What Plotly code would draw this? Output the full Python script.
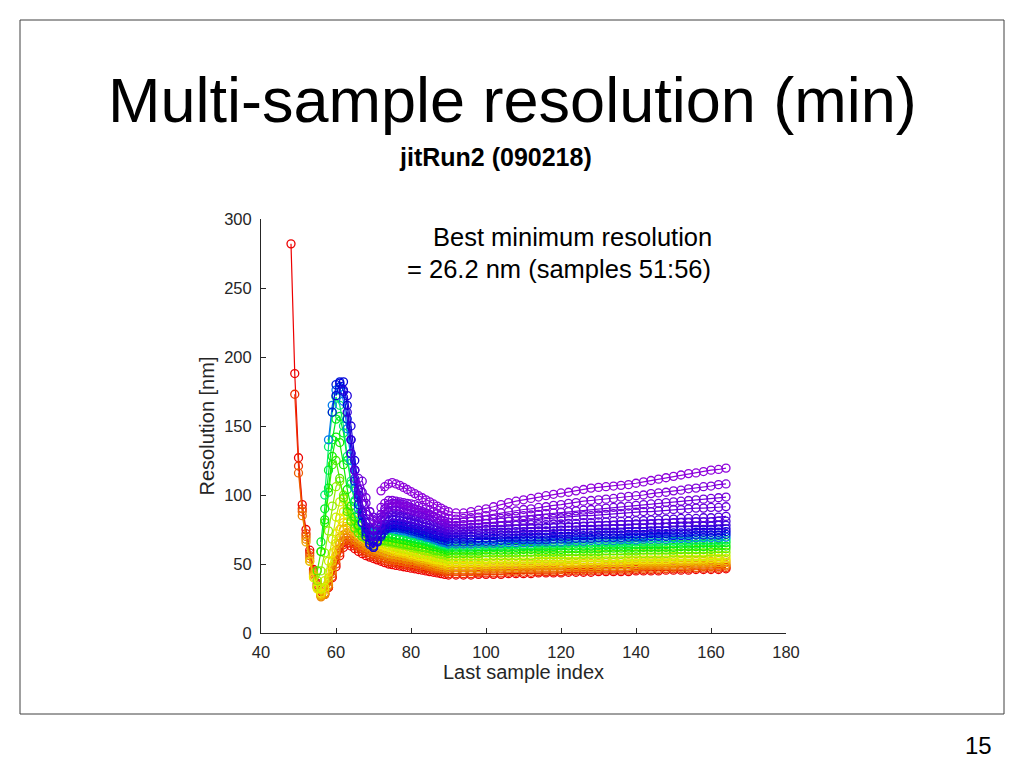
import colorsys
import plotly.graph_objects as go

# ---------------- data ----------------
# first "last sample index" of every curve (one curve per colour, red -> violet)
START = [48, 49, 50, 51, 52, 53, 54, 55, 55, 55, 56, 56, 57, 58, 59, 60, 62, 63, 64, 65, 66, 67, 72, 72]
HUES = [0.00, 0.035, 0.065, 0.09, 0.115, 0.14, 0.165, 0.19, 0.23, 0.28, 0.32, 0.36,
        0.41, 0.58, 0.645, 0.665, 0.69, 0.705, 0.72, 0.73, 0.745, 0.755, 0.765, 0.775]

# values at every sample from START up to 89
H01 = [282, 188, 127, 93, 75, 60, 46, 36, 30, 29, 33, 40, 48, 56, 62, 65, 63, 61, 59, 57.5, 56, 55, 54, 53, 52,
       51, 50, 49.5, 49, 48.5, 48, 47.5, 47, 46.5, 46, 45.5, 45, 44.5, 44, 43.5, 43, 42.5]
H02 = [173, 121, 90, 72, 58, 45, 35, 28, 28, 33, 41, 50, 58, 64, 67, 65, 63, 61, 59.5, 58, 56.5, 55.5, 54.5, 53.5,
       52.5, 51.5, 51, 50.5, 50, 49.5, 49, 48.5, 48, 47.5, 47, 46.5, 46, 45.5, 45, 44.5, 44]
H03 = [116, 88, 70, 56, 44, 34, 27, 28, 34, 43, 53, 61, 67, 69, 67, 65, 63, 61.5, 60, 58.5, 57.5, 56.5, 55.5,
       54.5, 53.5, 53, 52.5, 52, 51.5, 51, 50.5, 50, 49.5, 49, 48.5, 48, 47, 46.5, 46, 45.5]
H04 = [85, 68, 54, 43, 33, 26.2, 28, 35, 45, 56, 65, 71, 72, 70, 67.5, 65.5, 63.5, 62, 60.5, 59.5, 58.5, 57.5,
       56.5, 55.5, 55, 54.5, 54, 53.5, 53, 52.5, 52, 51.5, 51, 50, 49.5, 48.5, 48, 47.5, 47]
H05 = [66, 52, 42, 33, 27, 29, 37, 48, 60, 69, 75, 76, 73.5, 71, 68.5, 66.5, 64.5, 63, 61.5, 60.5, 59.5,
       58.5, 57.5, 57, 56.5, 56, 55.5, 55, 54.5, 54, 53, 52.5, 52, 51, 50.5, 49.5, 49, 48.5]
H06 = [52, 41, 33, 28, 31, 40, 52, 65, 75, 80, 80, 77, 74, 71, 69, 67, 65.5, 64, 63, 62,
       61, 60, 59, 58.5, 58, 57.5, 57, 56, 55.5, 55, 54, 53.5, 53, 52, 51.5, 50.5, 50]
H07 = [40, 32, 29, 33, 44, 58, 72, 83, 88, 86, 82, 78, 75, 72, 70, 68, 66.5, 65, 64,
       63, 62, 61, 60, 59.5, 59, 58.5, 57.5, 57, 56, 55.5, 55, 54.5, 53.5, 53, 52.5, 52]
H08 = [34, 32, 38, 52, 68, 84, 95, 97, 92, 87, 82, 78, 75, 72.5, 70.5, 68.5, 67, 66,
       65, 64, 63, 62.5, 61.5, 61, 60.5, 59.5, 59, 58, 57.5, 57, 56.5, 55.5, 55, 54.5, 54]
H09 = [38, 45, 58, 74, 92, 106, 110, 100, 90, 84, 79, 75, 72, 70, 68.5, 67.5, 67, 66.5,
       66, 65.5, 65, 64.5, 64, 63.5, 63, 62, 61.5, 61, 60, 59.5, 59, 58.5, 57.5, 57, 56.5]
H10 = [45, 59, 80, 102, 122, 125, 112, 98, 88, 81, 76, 72.5, 70, 68.5, 67.5, 67, 67, 67,
       67, 66.5, 66, 65.5, 65, 64.5, 64, 63.5, 63, 62.5, 62, 61.5, 61, 60, 59.5, 59, 58.5]
H11 = [59, 82, 105, 128, 142, 138, 122, 104, 92, 84, 78, 74, 72, 70.5, 70, 70, 70,
       70, 69.5, 69, 68.5, 68, 67.5, 67, 66.5, 65.5, 65, 64.5, 64, 63, 62.5, 62, 61, 60.5]
H12 = [66, 90, 118, 140, 155, 157, 145, 125, 108, 95, 86, 79, 75, 73, 72, 72, 72.5,
       72.5, 72, 71.5, 71, 70.5, 70, 69.5, 68.5, 68, 67.5, 67, 66, 65.5, 64.5, 64, 63, 62.5]
H13 = [100, 135, 160, 171, 165, 150, 128, 110, 96, 86, 79, 75.5, 74, 74, 74.5, 75,
       75, 74.5, 74, 73.5, 73, 72.5, 71.5, 71, 70, 69.5, 68.5, 68, 67, 66.5, 65.5, 64.5, 64]
H14 = [140, 165, 176, 178, 168, 148, 125, 105, 90, 80, 75, 73, 73, 74, 75.5,
       76, 76, 75.5, 75, 74.5, 74, 73.5, 72.5, 72, 71, 70.5, 69.5, 69, 68, 67, 66, 65.5]
H15 = [160, 180, 182, 175, 155, 130, 110, 93, 80, 70, 64, 63, 66, 70,
       74, 76, 76.5, 76.5, 76, 75.5, 75, 74, 73.5, 72.5, 72, 71, 70.5, 69.5, 68.5, 67.5, 67]
H16 = [172, 181, 182, 165, 140, 118, 100, 85, 73, 65, 62, 66, 71,
       75, 77, 78, 78, 77.5, 77, 76.5, 75.5, 75, 74, 73.5, 72.5, 72, 71, 70.5, 69.5, 69]
H17 = [176, 172, 150, 125, 104, 88, 76, 67, 62, 67, 72,
       76, 78.5, 79.5, 79.5, 79, 78.5, 78, 77.5, 76.5, 76, 75, 74.5, 73.5, 72.5, 72, 71, 70.5]
H18 = [160, 140, 118, 100, 87, 77, 70, 66, 70, 75,
       79, 81, 82, 82, 81.5, 81, 80.5, 80, 79, 78.5, 77.5, 77, 76, 75, 74.5, 73.5, 72.5]
H19 = [130, 112, 98, 88, 80, 74, 70, 74, 78,
       82, 84, 85, 85, 84.5, 84, 83.5, 82.5, 82, 81, 80.5, 79.5, 78.5, 78, 77, 76, 75]
H20 = [118, 104, 94, 86, 80, 76, 78, 82,
       86, 88, 89, 89, 88.5, 88, 87, 86.5, 85.5, 85, 84, 83, 82, 81, 80, 78.5, 77]
H21 = [112, 102, 94, 88, 84, 83, 86,
       90, 93, 94, 94, 93.5, 93, 92, 91, 90, 89, 88, 87, 86, 84.5, 83, 81.5, 79.5]
H22 = [110, 98, 88, 82, 80, 84,
       88, 91, 92, 92, 91.5, 91, 90, 89, 88, 87.5, 86.5, 85.5, 85, 84, 83, 82, 81]
H23 = [91,
       94, 96, 96, 95.5, 95, 94.5, 94, 93.5, 93, 92, 91, 90, 89, 88, 86.5, 85, 84]
H24 = [103,
       106, 108, 109, 108, 107, 105.5, 104, 102.5, 101, 99.5, 98, 96.5, 95, 93.5, 92, 90.5, 89]

# values at every second sample from 90 to 164
T01 = [42, 42, 42, 42, 42.5, 42.5, 42.5, 42.5, 43, 43, 43, 43, 43.5, 43.5, 43.5, 43.5, 44, 44, 44, 44,
       44.5, 44.5, 44.5, 44.5, 44.5, 45, 45, 45, 45, 45.5, 45.5, 45.5, 45.5, 46, 46, 46, 46, 46.5]
T02 = [43, 43, 43, 43, 43.5, 43.5, 43.5, 43.5, 44, 44, 44, 44, 44.5, 44.5, 44.5, 44.5, 45, 45, 45, 45,
       45.5, 45.5, 45.5, 45.5, 45.5, 46, 46, 46, 46, 46.5, 46.5, 46.5, 46.5, 47, 47, 47, 47, 47.5]
T03 = [44.5, 44.5, 44.5, 44.5, 44.5, 45, 45, 45, 45, 45, 45.5, 45.5, 45.5, 45.5, 45.5, 46, 46, 46, 46, 46,
       46.5, 46.5, 46.5, 46.5, 46.5, 47, 47, 47, 47, 47, 47.5, 47.5, 47.5, 47.5, 48, 48, 48, 48.5]
T04 = [46, 46, 46, 46, 46, 46.5, 46.5, 46.5, 46.5, 46.5, 47, 47, 47, 47, 47, 47, 47.5, 47.5, 47.5, 47.5,
       47.5, 48, 48, 48, 48, 48, 48.5, 48.5, 48.5, 48.5, 48.5, 49, 49, 49, 49, 49, 49.5, 49.5]
T05 = [47.5, 47.5, 47.5, 47.5, 47.5, 48, 48, 48, 48, 48, 48.5, 48.5, 48.5, 48.5, 48.5, 48.5, 49, 49, 49, 49,
       49, 49.5, 49.5, 49.5, 49.5, 49.5, 50, 50, 50, 50, 50, 50.5, 50.5, 50.5, 50.5, 50.5, 51, 51]
T06 = [49, 49, 49, 49, 49, 49.5, 49.5, 49.5, 49.5, 49.5, 50, 50, 50, 50, 50, 50, 50.5, 50.5, 50.5, 50.5,
       50.5, 51, 51, 51, 51, 51, 51.5, 51.5, 51.5, 51.5, 51.5, 52, 52, 52, 52, 52, 52.5, 52.5]
T07 = [51, 51, 51, 51, 51, 51, 51.5, 51.5, 51.5, 51.5, 51.5, 51.5, 52, 52, 52, 52, 52, 52, 52.5, 52.5,
       52.5, 52.5, 52.5, 52.5, 53, 53, 53, 53, 53, 53, 53.5, 53.5, 53.5, 53.5, 53.5, 54, 54, 54]
T08 = [53, 53, 53, 53, 53, 53, 53.5, 53.5, 53.5, 53.5, 53.5, 53.5, 54, 54, 54, 54, 54, 54, 54.5, 54.5,
       54.5, 54.5, 54.5, 54.5, 55, 55, 55, 55, 55, 55, 55.5, 55.5, 55.5, 55.5, 55.5, 56, 56, 56]
T09 = [55.5, 55.5, 55.5, 55.5, 55.5, 55.5, 56, 56, 56, 56, 56, 56, 56.5, 56.5, 56.5, 56.5, 56.5, 56.5, 57, 57,
       57, 57, 57, 57, 57.5, 57.5, 57.5, 57.5, 57.5, 57.5, 58, 58, 58, 58, 58, 58.5, 58.5, 58.5]
T10 = [57.5, 57.5, 57.5, 57.5, 57.5, 58, 58, 58, 58, 58, 58.5, 58.5, 58.5, 58.5, 58.5, 58.5, 59, 59, 59, 59,
       59, 59.5, 59.5, 59.5, 59.5, 59.5, 60, 60, 60, 60, 60, 60.5, 60.5, 60.5, 60.5, 60.5, 61, 61]
T11 = [59.5, 59.5, 59.5, 59.5, 59.5, 60, 60, 60, 60, 60, 60.5, 60.5, 60.5, 60.5, 60.5, 60.5, 61, 61, 61, 61,
       61, 61.5, 61.5, 61.5, 61.5, 61.5, 62, 62, 62, 62, 62, 62.5, 62.5, 62.5, 62.5, 62.5, 63, 63]
T12 = [61.5, 61.5, 61.5, 61.5, 61.5, 62, 62, 62, 62, 62, 62.5, 62.5, 62.5, 62.5, 62.5, 63, 63, 63, 63, 63,
       63.5, 63.5, 63.5, 63.5, 63.5, 64, 64, 64, 64, 64, 64.5, 64.5, 64.5, 64.5, 65, 65, 65, 65.5]
T13 = [63, 63, 63, 63, 63.5, 63.5, 63.5, 63.5, 64, 64, 64, 64, 64.5, 64.5, 64.5, 64.5, 65, 65, 65, 65,
       65.5, 65.5, 65.5, 65.5, 65.5, 66, 66, 66, 66, 66.5, 66.5, 66.5, 66.5, 67, 67, 67, 67, 67.5]
T14 = [64.5, 64.5, 64.5, 64.5, 65, 65, 65, 65, 65.5, 65.5, 65.5, 65.5, 66, 66, 66, 66, 66.5, 66.5, 66.5, 67,
       67, 67, 67, 67.5, 67.5, 67.5, 68, 68, 68, 68, 68.5, 68.5, 68.5, 69, 69, 69, 69, 69.5]
T15 = [66, 66, 66, 66, 66.5, 66.5, 66.5, 67, 67, 67, 67.5, 67.5, 67.5, 67.5, 68, 68, 68, 68.5, 68.5, 68.5,
       69, 69, 69, 69, 69.5, 69.5, 69.5, 70, 70, 70, 70.5, 70.5, 70.5, 71, 71, 71, 71, 71.5]
T16 = [68, 68, 68, 68, 68.5, 68.5, 68.5, 69, 69, 69, 69.5, 69.5, 69.5, 69.5, 70, 70, 70, 70.5, 70.5, 70.5,
       71, 71, 71, 71, 71.5, 71.5, 71.5, 72, 72, 72, 72.5, 72.5, 72.5, 73, 73, 73, 73, 73.5]
T17 = [70, 70, 70, 70, 70.5, 70.5, 70.5, 71, 71, 71, 71.5, 71.5, 71.5, 71.5, 72, 72, 72, 72.5, 72.5, 72.5,
       73, 73, 73, 73, 73.5, 73.5, 73.5, 74, 74, 74, 74.5, 74.5, 74.5, 75, 75, 75, 75, 75.5]
T18 = [72, 72, 72, 72.5, 72.5, 72.5, 73, 73, 73, 73.5, 73.5, 73.5, 74, 74, 74, 74.5, 74.5, 74.5, 75, 75,
       75, 75.5, 75.5, 75.5, 76, 76, 76, 76.5, 76.5, 76.5, 77, 77, 77, 77.5, 77.5, 77.5, 78, 78]
T19 = [74, 74, 74, 74.5, 74.5, 75, 75, 75, 75.5, 75.5, 76, 76, 76, 76.5, 76.5, 77, 77, 77, 77.5, 77.5,
       78, 78, 78, 78.5, 78.5, 79, 79, 79, 79.5, 79.5, 80, 80, 80, 80.5, 80.5, 80.5, 81, 81]
T20 = [76, 76, 76, 76.5, 76.5, 77, 77, 77.5, 77.5, 78, 78, 78.5, 78.5, 78.5, 79, 79, 79.5, 79.5, 80, 80,
       80.5, 80.5, 81, 81, 81, 81.5, 81.5, 82, 82, 82.5, 82.5, 83, 83, 83, 83.5, 83.5, 84, 84.5]
T21 = [78, 78, 78.5, 78.5, 79, 79.5, 80, 80.5, 81, 81, 81.5, 82, 82.5, 83, 83, 83.5, 84, 84.5, 85, 85,
       85.5, 86, 86.5, 86.5, 87, 87.5, 88, 88, 88.5, 89, 89.5, 89.5, 90, 90.5, 90.5, 91, 91, 91.5]
T22 = [80, 80, 80.5, 81, 81.5, 82, 82.5, 83, 83.5, 84.5, 85, 85.5, 86, 86.5, 87, 87.5, 88, 88.5, 89, 89.5,
       90, 90.5, 91, 91.5, 92, 92.5, 93, 93.5, 94, 94.5, 95, 95.5, 96, 96.5, 97, 97.5, 98, 98.5]
T23 = [83, 82.5, 83, 83.5, 84, 85, 86, 87, 88, 88.5, 89.5, 90, 91, 91.5, 92.5, 93, 94, 94.5, 95.5, 96,
       96.5, 97, 97.5, 98.5, 99, 99.5, 100, 101, 101.5, 102, 103, 103.5, 104.5, 105, 106, 106.5, 107.5, 108]
T24 = [88, 87, 87, 88, 89, 90, 91.5, 93, 94.5, 95.5, 96.5, 97.5, 98.5, 99.5, 100.5, 101.5, 102, 103, 104, 105,
       105.5, 106, 106.5, 107, 107.5, 108.5, 109.5, 110.5, 111.5, 112.5, 113.5, 114.5, 115.5, 116, 117, 118, 118.5, 119.5]

HEADS = [H01, H02, H03, H04, H05, H06, H07, H08, H09, H10, H11, H12,
         H13, H14, H15, H16, H17, H18, H19, H20, H21, H22, H23, H24]
TAILS = [T01, T02, T03, T04, T05, T06, T07, T08, T09, T10, T11, T12,
         T13, T14, T15, T16, T17, T18, T19, T20, T21, T22, T23, T24]

TAIL_START, TAIL_END, TAIL_STEP = 90, 164, 2

X_TICKS = [40, 60, 80, 100, 120, 140, 160, 180]
Y_TICKS = [0, 50, 100, 150, 200, 250, 300]

TITLE = "Multi-sample resolution (min)"
SUBTITLE = "jitRun2 (090218)"
NOTE_1 = "Best minimum resolution"
NOTE_2 = "= 26.2 nm (samples 51:56)"
PAGE = "15"

# ---------------- figure ----------------
FONT = "Liberation Sans, Arial, Helvetica, sans-serif"
AX = "#262626"

OFF = 8                      # page body margin of the html page
W, H = 1024 - OFF, 768 - OFF
PL, PR, PT, PB = 261 - OFF, 786 - OFF, 219 - OFF, 633 - OFF  # plot area in figure pixels


def px_x(px):
    return (px - OFF - PL) / (PR - PL)


def px_y(py):
    return (PB - (py - OFF)) / (PB - PT)


fig = go.Figure()
for i, (start, head, tail, hue) in enumerate(zip(START, HEADS, TAILS, HUES)):
    xs_head = list(range(start, TAIL_START))
    xs_tail = list(range(TAIL_START, TAIL_END + 1, TAIL_STEP))
    assert len(head) == len(xs_head), ("head", i + 1, len(head), len(xs_head))
    assert len(tail) == len(xs_tail), ("tail", i + 1, len(tail), len(xs_tail))
    val = 0.93 if hue < 0.6 else 0.86
    r, g, b = colorsys.hsv_to_rgb(hue, 1.0, val)
    col = f"rgb({int(r * 255)},{int(g * 255)},{int(b * 255)})"
    fig.add_trace(go.Scatter(
        x=xs_head + xs_tail, y=head + tail, mode="lines+markers",
        line=dict(color=col, width=1.2),
        marker=dict(symbol="circle-open", size=8, color=col, line=dict(width=1.3, color=col)),
        showlegend=False, hoverinfo="x+y",
    ))

fig.update_xaxes(
    range=[40, 180], tickvals=X_TICKS, showgrid=False, zeroline=False,
    showline=True, linecolor=AX, linewidth=1, ticks="inside", ticklen=5, tickcolor=AX,
    tickfont=dict(family=FONT, size=16.5, color=AX), ticklabelstandoff=4,
    title=dict(text="Last sample index", font=dict(family=FONT, size=20, color=AX), standoff=5),
)
fig.update_yaxes(
    range=[0, 300], tickvals=Y_TICKS, showgrid=False, zeroline=False,
    showline=True, linecolor=AX, linewidth=1, ticks="inside", ticklen=5, tickcolor=AX,
    tickfont=dict(family=FONT, size=16.5, color=AX), ticklabelstandoff=5,
    title=dict(text="Resolution [nm]", font=dict(family=FONT, size=20, color=AX), standoff=4),
)

annotations = [
    dict(text=TITLE, x=px_x(512), y=px_y(100), font=dict(family=FONT, size=63, color="black"),
         xanchor="center", yanchor="middle"),
    dict(text=f"<b>{SUBTITLE}</b>", x=px_x(495), y=px_y(157), font=dict(family=FONT, size=25, color="black"),
         xanchor="center", yanchor="middle"),
    dict(text=NOTE_1, x=px_x(714), y=px_y(237), font=dict(family=FONT, size=25.5, color="black"),
         xanchor="right", yanchor="middle"),
    dict(text=NOTE_2, x=px_x(713), y=px_y(269), font=dict(family=FONT, size=25.5, color="black"),
         xanchor="right", yanchor="middle"),
    dict(text=PAGE, x=px_x(978), y=px_y(745), font=dict(family=FONT, size=24, color="black"),
         xanchor="center", yanchor="middle"),
]
for a in annotations:
    a.update(xref="paper", yref="paper", showarrow=False)

fig.update_layout(
    width=W, height=H,
    margin=dict(l=PL, r=W - PR, t=PT, b=H - PB),
    paper_bgcolor="white", plot_bgcolor="white",
    annotations=annotations,
    shapes=[dict(type="rect", xref="paper", yref="paper",
                 x0=px_x(20), x1=px_x(1004), y0=px_y(714), y1=px_y(20),
                 line=dict(color="#404040", width=1), fillcolor="rgba(0,0,0,0)", layer="below")],
    font=dict(family=FONT),
)

fig.write_html("out.html")
